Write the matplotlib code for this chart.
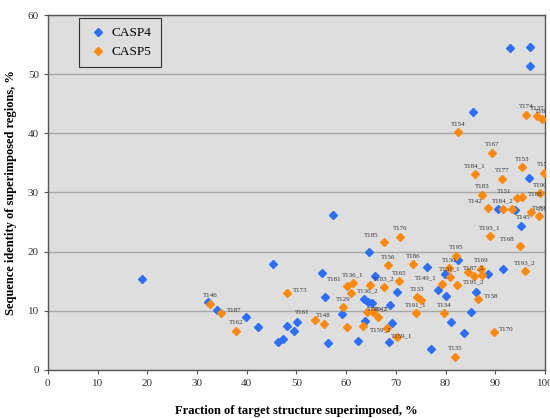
import matplotlib
matplotlib.use("Agg")
import matplotlib.pyplot as plt

plt.rcParams['font.family'] = ['Liberation Serif', 'DejaVu Serif']

# CASP4 points (fraction superimposed %, sequence identity %)
casp4_x = [18.9, 45.3, 57.3, 55.1, 55.7, 32.2, 34.0, 39.8, 42.3, 48.1, 50.1, 49.5,
           46.3, 47.3, 56.3, 62.4, 63.8, 64.6, 59.2, 63.6, 64.4, 65.2, 65.8, 68.8,
           68.6, 69.2, 70.2, 76.3, 82.5, 79.9, 78.5, 80.1, 86.1, 85.1, 81.1, 83.7,
           77.1, 88.5, 91.5, 85.5, 93.0, 97.0, 97.0, 96.8, 90.5, 94.0, 95.2]
casp4_y = [15.4, 17.9, 26.2, 16.4, 12.3, 11.5, 10.1, 9.0, 7.3, 7.4, 8.1, 6.6,
           4.7, 5.2, 4.6, 4.9, 8.3, 19.9, 9.5, 12.0, 11.5, 11.3, 15.9, 11.0,
           4.7, 7.9, 13.2, 17.4, 18.6, 16.2, 13.5, 12.5, 13.2, 9.8, 8.1, 6.3,
           3.5, 16.2, 17.1, 43.6, 54.4, 54.6, 51.4, 32.4, 27.2, 27.0, 24.3]

# CASP5 points with target labels
casp5_x = [32.6, 34.8, 37.8, 48.1, 53.7, 55.5, 60.2, 61.4, 61.0, 59.4, 60.2, 63.4,
           64.8, 67.6, 67.6, 70.8, 68.4, 73.4, 64.2, 65.4, 66.4, 68.2, 70.2, 70.6,
           74.2, 75.1, 74.0, 79.7, 86.5, 82.1, 80.7, 80.9, 82.3, 79.3, 84.5, 85.7,
           87.3, 87.1, 96.0, 89.7, 81.9, 96.2, 98.4, 99.4, 82.5, 89.3, 95.4, 99.8,
           85.9, 91.3, 99.0, 87.3, 95.4, 94.4, 88.5, 91.5, 93.4, 97.2, 98.8, 88.9,
           95.0]
casp5_y = [11.2, 9.6, 6.6, 13.0, 8.5, 7.8, 14.2, 14.7, 13.0, 10.6, 7.3, 7.4,
           14.4, 14.0, 21.6, 22.5, 17.7, 17.9, 9.8, 9.8, 9.0, 7.1, 5.6, 15.0,
           12.3, 11.8, 9.6, 9.6, 12.0, 19.3, 17.2, 15.7, 14.4, 14.5, 16.6, 15.9,
           16.1, 17.1, 16.7, 6.4, 2.2, 43.1, 42.9, 42.4, 40.2, 36.7, 34.3, 33.3,
           33.1, 32.3, 29.9, 29.6, 29.2, 29.1, 27.4, 27.2, 27.2, 26.7, 26.0, 22.6,
           21.0]
casp5_labels = ['T146', 'T187', 'T162', 'T173', 'T161', 'T148', 'T181', 'T136_1', 'T136_2',
                'T129', '', '', '', 'T183_2', 'T185', 'T176', 'T156', 'T186', 'T147', '',
                'T149_2', 'T159_1', 'T159_2', 'T165', 'T133', '', 'T191_1', 'T134', 'T158',
                'T195', 'T130', 'T131_1', 'T191_2', 'T149_1', '', 'T187_2', '', 'T169',
                'T193_2', 'T170', 'T135', 'T174', 'T137', 'T182', 'T154', 'T167', 'T153',
                'T155', 'T184_1', 'T177', 'T190', 'T183', 'T188', 'T151', 'T142', 'T184_2',
                'T145', 'T178', 'T179', 'T193_1', 'T168']

# a few labels sit beside or below their marker instead of above it
left_side = {'T142', 'T185', 'T181', 'T161', 'T149_1', 'T159_2', 'T168', 'T151'}
right_side = {'T173', 'T187', 'T136_2', 'T158', 'T178', 'T191_2', 'T170', 'T147', 'T188'}
below = {'T145', 'T159_1'}

blue = '#2f6ff5'
orange = '#fb8a11'

fig = plt.figure(figsize=(5.5, 4.18), dpi=100)
ax = fig.add_axes([0.087, 0.115, 0.904, 0.849])
ax.set_facecolor('#dedede')

ax.plot(casp4_x, casp4_y, 'D', color=blue, ms=4.5, mec=blue, label='CASP4', zorder=3)
ax.plot(casp5_x, casp5_y, 'D', color=orange, ms=4.5, mec=orange, label='CASP5', zorder=3)

for x, y, t in zip(casp5_x, casp5_y, casp5_labels):
    if not t:
        continue
    if t in left_side:
        off, ha, va = (-4, 3), 'right', 'bottom'
    elif t in right_side:
        off, ha, va = (4, 0), 'left', 'bottom'
    elif t in below:
        off, ha, va = (3, -4), 'left', 'top'
    else:
        off, ha, va = (0, 4), 'center', 'bottom'
    ax.annotate(t, (x, y), xytext=off, textcoords='offset points',
                ha=ha, va=va, fontsize=5, color='#333333',
                annotation_clip=False, clip_on=True, zorder=4)

ax.set_xlim(0, 100)
ax.set_ylim(0, 60)
ax.set_xticks(range(0, 101, 10))
ax.set_yticks(range(0, 61, 10))
ax.yaxis.grid(True, color='#a9a9a9', lw=1)
ax.set_axisbelow(True)
for s in ax.spines.values():
    s.set_color('#555555')
    s.set_linewidth(1)
ax.tick_params(labelsize=8, colors='#555555', labelcolor='#333333', length=3)

ax.set_xlabel('Fraction of target structure superimposed, %', fontsize=9,
              fontweight='bold', labelpad=12)
ax.set_ylabel('Sequence identity of superimposed regions, %', fontsize=9,
              fontweight='bold', labelpad=8)

leg = ax.legend(loc='upper left', bbox_to_anchor=(0.062, 0.992), fontsize=9.5,
                frameon=True, fancybox=False, edgecolor='#333333',
                facecolor='#dedede', framealpha=1, borderaxespad=0,
                handletextpad=0.3, borderpad=0.7, labelspacing=0.5, handlelength=1.5)
leg.get_frame().set_linewidth(0.8)

fig.savefig('out.png', dpi=100)
